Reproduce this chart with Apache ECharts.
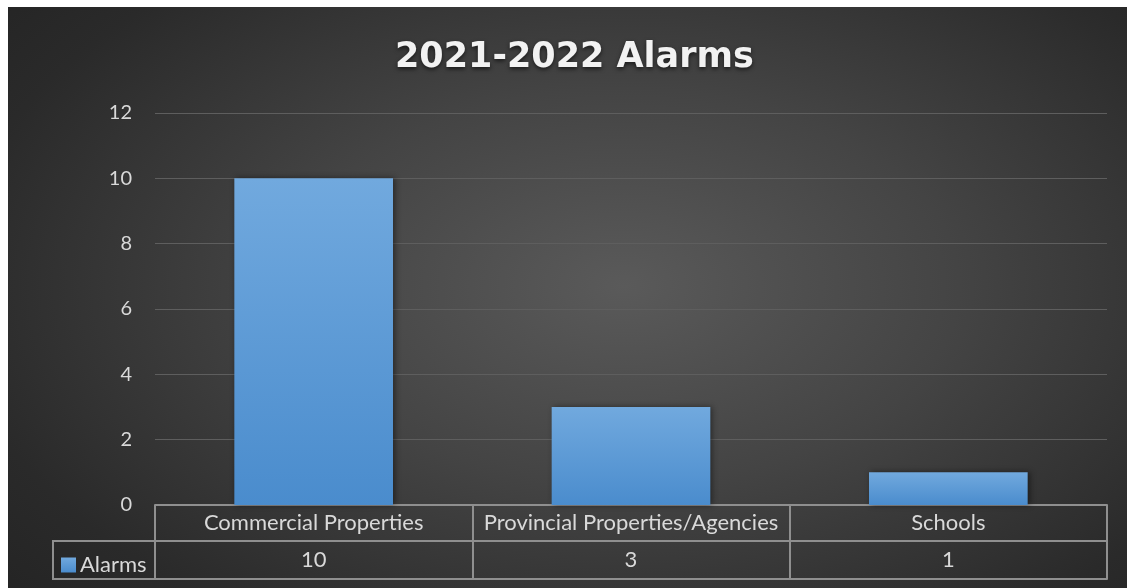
<!DOCTYPE html>
<html>
<head>
<meta charset="utf-8">
<script src="https://cdn.jsdelivr.net/npm/echarts@6/dist/echarts.min.js"></script>
<style>
  html, body { margin: 0; padding: 0; background: #ffffff; }
  #bg { position: absolute; left: 8px; top: 7px; width: 1119px; height: 581px;
        background: radial-gradient(ellipse 75% 85% at 55% 48%, #5a5a5a 0%, #444 40%, #2a2a2a 80%, #232323 100%); }
  #chart { position: absolute; left: 0; top: 0; width: 1127px; height: 588px; }
</style>
</head>
<body>
<div id="bg"></div>
<div id="chart"></div>
<script>
const titleText = '2021-2022 Alarms';
const categories = ['Commercial Properties', 'Provincial Properties/Agencies', 'Schools'];
const seriesName = 'Alarms';
const alarms = [10, 3, 1];
const yTicks = { min: 0, max: 12, interval: 2 };

const FONT = 'Lato';
const tableLine = '#8f8f8f';
const textColor = '#d9d9d9';

const chart = echarts.init(document.getElementById('chart'), null, { renderer: 'canvas' });
const option = {
  backgroundColor: 'transparent',
  title: {
    text: titleText,
    left: 390,
    top: 35,
    textStyle: {
      color: '#f2f2f2', fontFamily: 'DejaVu Sans', fontWeight: 'bold', fontSize: 35,
      textShadowColor: 'rgba(0,0,0,0.6)', textShadowBlur: 4, textShadowOffsetY: 2
    }
  },
  legend: {
    data: [seriesName],
    left: 56, top: 549,
    icon: 'rect', itemWidth: 15, itemHeight: 15, itemGap: 4,
    textStyle: { color: textColor, fontFamily: FONT, fontSize: 22, padding: [0, 0, 0, -1] }
  },
  grid: { left: 155, right: 20, top: 113, bottom: 83, containLabel: false },
  xAxis: [
    {
      type: 'category', data: categories, position: 'bottom',
      axisLine: { show: true, lineStyle: { color: tableLine, width: 2 } },
      axisTick: { show: true, length: 74, interval: 0, lineStyle: { color: tableLine, width: 2 } },
      axisLabel: { color: textColor, fontFamily: FONT, fontSize: 22, margin: 7, interval: 0 }
    },
    {
      type: 'category', data: alarms.map(String), position: 'bottom', offset: 36,
      axisLine: { show: true, lineStyle: { color: tableLine, width: 2 } },
      axisTick: { show: false },
      axisLabel: { color: textColor, fontFamily: FONT, fontSize: 22, margin: 8, interval: 0 }
    },
    {
      type: 'category', data: categories, position: 'bottom', offset: 74,
      axisLine: { show: true, lineStyle: { color: tableLine, width: 2 } },
      axisTick: { show: false },
      axisLabel: { show: false }
    }
  ],
  yAxis: {
    type: 'value', min: yTicks.min, max: yTicks.max, interval: yTicks.interval,
    axisLine: { show: false }, axisTick: { show: false },
    axisLabel: { color: textColor, fontFamily: FONT, fontSize: 20, margin: 23 },
    splitLine: { show: true, lineStyle: { color: '#5e5e5e', width: 1 } }
  },
  graphic: [
    {
      type: 'polyline',
      shape: { points: [[155, 541], [53, 541], [53, 579], [155, 579]] },
      style: { stroke: tableLine, lineWidth: 2, fill: null }
    }
  ],
  series: [
    {
      name: seriesName, type: 'bar', data: alarms, barWidth: '50%',
      itemStyle: {
        color: new echarts.graphic.LinearGradient(0, 0, 0, 1, [
          { offset: 0, color: '#71a9de' },
          { offset: 1, color: '#4a8ccd' }
        ]),
        shadowColor: 'rgba(0,0,0,0.45)', shadowBlur: 6, shadowOffsetX: 2, shadowOffsetY: 0
      },
      emphasis: { disabled: true }
    }
  ],
  animation: false
};
chart.setOption(option);
</script>
</body>
</html>
